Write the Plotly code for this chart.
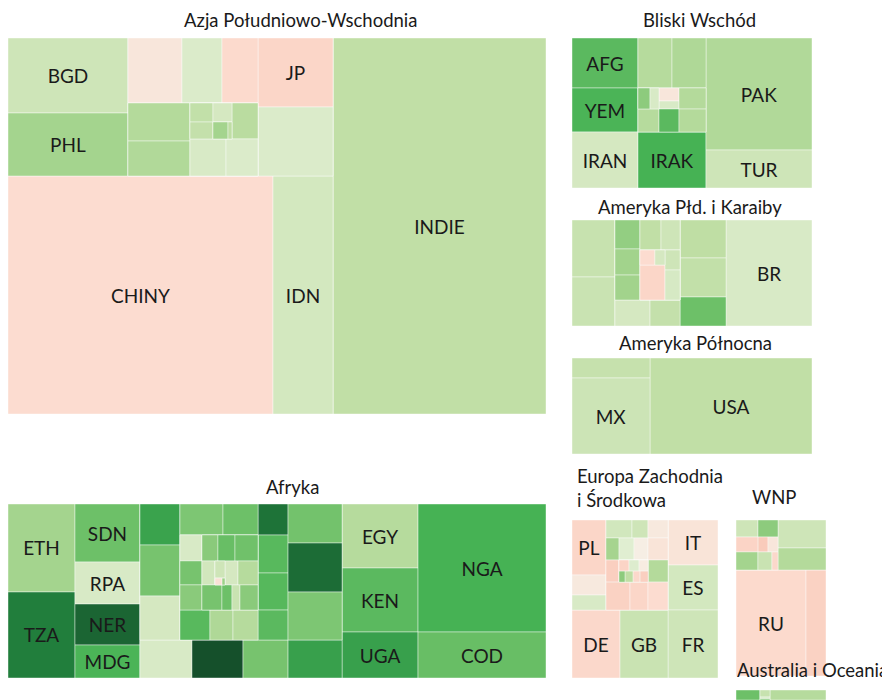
import plotly.graph_objects as go

# Każdy wiersz: (id, rodzic, ludność 2050 w mln, zmiana %, skrót na kafelku)
# węzły "x:..." to tylko grupy porządkujące układ kafelków (wartość 0)

azja = [
    ("Azja", "", 0, 20, ""),
    ("a:lewa", "Azja", 0, 20, ""),
    ("a:gora", "a:lewa", 0, 20, ""),
    ("a:bp", "a:gora", 0, 20, ""),
    ("Bangladesz", "a:bp", 187.5, 16, "BGD"),
    ("Filipiny", "a:bp", 157.5, 37, "PHL"),
    ("a:srodek", "a:gora", 0, 20, ""),
    ("a:s1", "a:srodek", 0, 20, ""),
    ("Tajlandia", "a:s1", 73.1, -6, ""),
    ("Mjanma", "a:s1", 54.2, 9, ""),
    ("Korea Płd.", "a:s1", 48.8, -11, ""),
    ("a:s2", "a:srodek", 0, 20, ""),
    ("a:nm", "a:s2", 0, 20, ""),
    ("Nepal", "a:nm", 49.1, 30, ""),
    ("Malezja", "a:nm", 45.2, 31, ""),
    ("a:reszta", "a:s2", 0, 20, ""),
    ("a:male", "a:reszta", 0, 20, ""),
    ("a:m1", "a:male", 0, 20, ""),
    ("Laos", "a:m1", 9.1, 23, ""),
    ("Singapur", "a:m1", 8.1, 22, ""),
    ("a:m2", "a:male", 0, 20, ""),
    ("Mongolia", "a:m2", 7.5, 12, ""),
    ("a:m3", "a:m2", 0, 20, ""),
    ("Timor Wschodni", "a:m3", 5.3, 37, ""),
    ("Bhutan", "a:m3", 1.4, 25, ""),
    ("Kambodża", "a:male", 19.5, 27, ""),
    ("a:para", "a:reszta", 0, 20, ""),
    ("Sri Lanka", "a:para", 27.8, 10, ""),
    ("Korea Płn.", "a:para", 24.7, 9, ""),
    ("a:jv", "a:gora", 0, 20, ""),
    ("Japonia", "a:jv", 107.8, -13, "JP"),
    ("Wietnam", "a:jv", 107.8, 9, ""),
    ("a:dol", "a:lewa", 0, 20, ""),
    ("Chiny", "a:dol", 1314.0, -10, "CHINY"),
    ("Indonezja", "a:dol", 297.5, 13, "IDN"),
    ("Indie", "Azja", 1668.5, 24, "INDIE"),
]

bliski_wschod = [
    ("Bliski Wschód", "", 0, 20, ""),
    ("b:l", "Bliski Wschód", 0, 20, ""),
    ("Afganistan", "b:l", 82.5, 62, "AFG"),
    ("Jemen", "b:l", 72.6, 68, "YEM"),
    ("Iran", "b:l", 92.4, 12, "IRAN"),
    ("b:m", "Bliski Wschód", 0, 20, ""),
    ("b:mg", "b:m", 0, 20, ""),
    ("Arabia Saudyjska", "b:mg", 42.5, 29, ""),
    ("Syria", "b:mg", 42.5, 32, ""),
    ("b:ms", "b:m", 0, 20, ""),
    ("b:c1", "b:ms", 0, 20, ""),
    ("b:c1g", "b:c1", 0, 20, ""),
    ("Jordania", "b:c1g", 6.3, 45, ""),
    ("Kuwejt", "b:c1g", 4.7, 10, ""),
    ("Izrael", "b:c1", 12.1, 29, ""),
    ("b:c2", "b:ms", 0, 20, ""),
    ("Liban", "b:c2", 6.5, -6, ""),
    ("Katar", "b:c2", 4.0, 10, ""),
    ("Palestyna", "b:c2", 11.5, 62, ""),
    ("b:c3", "b:ms", 0, 20, ""),
    ("Oman", "b:c3", 14.2, 30, ""),
    ("ZEA", "b:c3", 15.5, 30, ""),
    ("Irak", "b:m", 95.2, 70, "IRAK"),
    ("b:p", "Bliski Wschód", 0, 20, ""),
    ("Pakistan", "b:p", 296.8, 31, "PAK"),
    ("Turcja", "b:p", 100.7, 16, "TUR"),
]

ameryka_pld = [
    ("Ameryka Płd. i Karaiby", "", 0, 20, ""),
    ("p:c1", "Ameryka Płd. i Karaiby", 0, 20, ""),
    ("Kolumbia", "p:c1", 61.3, 20, ""),
    ("Argentyna", "p:c1", 52.7, 19, ""),
    ("p:sr", "Ameryka Płd. i Karaiby", 0, 20, ""),
    ("p:g", "p:sr", 0, 20, ""),
    ("p:m1", "p:g", 0, 20, ""),
    ("Boliwia", "p:m1", 18.1, 43, ""),
    ("Haiti", "p:m1", 16.3, 38, ""),
    ("Honduras", "p:m1", 15.6, 38, ""),
    ("p:m2", "p:g", 0, 20, ""),
    ("p:m2g", "p:m2", 0, 20, ""),
    ("Chile", "p:m2g", 15.8, 24, ""),
    ("Dominikana", "p:m2g", 14.3, 16, ""),
    ("p:m2s", "p:m2", 0, 20, ""),
    ("p:pk", "p:m2s", 0, 20, ""),
    ("p:pkm", "p:pk", 0, 20, ""),
    ("Portoryko", "p:pkm", 5.6, -10, ""),
    ("Jamajka", "p:pkm", 3.8, 12, ""),
    ("Kuba", "p:pk", 21.9, -13, ""),
    ("p:pr", "p:m2s", 0, 20, ""),
    ("Salwador", "p:pr", 7.5, 16, ""),
    ("Nikaragua", "p:pr", 11.3, 11, ""),
    ("p:d", "p:sr", 0, 20, ""),
    ("Paragwaj", "p:d", 22.8, 12, ""),
    ("Ekwador", "p:d", 19.5, 22, ""),
    ("p:c3", "Ameryka Płd. i Karaiby", 0, 20, ""),
    ("Peru", "p:c3", 43.7, 25, ""),
    ("Wenezuela", "p:c3", 44.9, 23, ""),
    ("Gwatemala", "p:c3", 33.4, 55, ""),
    ("Brazylia", "Ameryka Płd. i Karaiby", 227.9, 10, "BR"),
]

ameryka_pln = [
    ("Ameryka Północna", "", 0, 20, ""),
    ("n:l", "Ameryka Północna", 0, 20, ""),
    ("Kanada", "n:l", 39.0, 21, ""),
    ("Meksyk", "n:l", 148.2, 17, "MX"),
    ("USA", "Ameryka Północna", 388.8, 24, "USA"),
]

afryka = [
    ("Afryka", "", 0, 20, ""),
    ("f:1", "Afryka", 0, 20, ""),
    ("Etiopia", "f:1", 147.4, 37, "ETH"),
    ("Tanzania", "f:1", 144.1, 87, "TZA"),
    ("f:2", "Afryka", 0, 20, ""),
    ("Sudan", "f:2", 94.3, 55, "SDN"),
    ("RPA", "f:2", 68.3, 10, "RPA"),
    ("Niger", "f:2", 66.6, 94, "NER"),
    ("Madagaskar", "f:2", 53.6, 68, "MDG"),
    ("f:sr", "Afryka", 0, 20, ""),
    ("f:g", "f:sr", 0, 20, ""),
    ("f:a", "f:g", 0, 20, ""),
    ("Mozambik", "f:a", 41.0, 75, ""),
    ("Wybrzeże Kości Słoniowej", "f:a", 51.0, 52, ""),
    ("Algieria", "f:a", 44.0, 12, ""),
    ("f:b", "f:g", 0, 20, ""),
    ("f:b1", "f:b", 0, 20, ""),
    ("Malawi", "f:b1", 33.3, 50, ""),
    ("Zambia", "f:b1", 27.1, 55, ""),
    ("f:b2", "f:b", 0, 20, ""),
    ("f:b2a", "f:b2", 0, 20, ""),
    ("Tunezja", "f:b2a", 14.3, 10, ""),
    ("Senegal", "f:b2a", 13.2, 52, ""),
    ("Zimbabwe", "f:b2a", 13.8, 46, ""),
    ("f:sp", "f:b2", 0, 20, ""),
    ("f:s1", "f:sp", 0, 20, ""),
    ("Benin", "f:s1", 10.4, 46, ""),
    ("Togo", "f:s1", 11.1, 57, ""),
    ("Rwanda", "f:s1", 15.0, 54, ""),
    ("f:s2", "f:sp", 0, 20, ""),
    ("Libia", "f:s2", 7.8, 14, ""),
    ("f:sg", "f:s2", 0, 20, ""),
    ("Gabon", "f:sg", 4.3, 16, ""),
    ("f:sgt", "f:sg", 0, 20, ""),
    ("Mauritius", "f:sgt", 1.2, -8, ""),
    ("Komory", "f:sgt", 0.5, 40, ""),
    ("Lesotho", "f:s2", 7.8, 12, ""),
    ("Sierra Leone", "f:s2", 12.0, 29, ""),
    ("f:s3", "f:sp", 0, 20, ""),
    ("Liberia", "f:s3", 12.5, 52, ""),
    ("Gambia", "f:s3", 6.3, 55, ""),
    ("Botswana", "f:s3", 5.0, 19, ""),
    ("Namibia", "f:s3", 11.3, 46, ""),
    ("f:b3", "f:b", 0, 20, ""),
    ("Sudan Płd.", "f:b3", 22.5, 63, ""),
    ("Erytrea", "f:b3", 17.3, 32, ""),
    ("Mauretania", "f:b3", 18.8, 29, ""),
    ("f:c", "f:g", 0, 20, ""),
    ("Mali", "f:c", 23.3, 90, ""),
    ("Burundi", "f:c", 28.5, 63, ""),
    ("Gwinea", "f:c", 27.8, 64, ""),
    ("Kongo", "f:c", 22.5, 62, ""),
    ("f:d", "f:g", 0, 20, ""),
    ("Czad", "f:d", 52.7, 53, ""),
    ("Somalia", "f:d", 66.2, 92, ""),
    ("Burkina Faso", "f:d", 64.8, 50, ""),
    ("f:dol", "f:sr", 0, 20, ""),
    ("Maroko", "f:dol", 49.4, 10, ""),
    ("Angola", "f:dol", 48.5, 100, ""),
    ("Ghana", "f:dol", 42.8, 52, ""),
    ("Kamerun", "f:dol", 51.3, 76, ""),
    ("f:4", "Afryka", 0, 20, ""),
    ("Egipt", "f:4", 121.6, 29, "EGY"),
    ("Kenia", "f:4", 121.6, 62, "KEN"),
    ("Uganda", "f:4", 87.4, 76, "UGA"),
    ("f:5", "Afryka", 0, 20, ""),
    ("Nigeria", "f:5", 409.6, 70, "NGA"),
    ("DR Konga", "f:5", 147.2, 57, "COD"),
]

europa = [
    ("Europa", "", 0, 20, ""),
    ("e:l", "Europa", 0, 20, ""),
    ("e:lg", "e:l", 0, 20, ""),
    ("e:pl", "e:lg", 0, 20, ""),
    ("Polska", "e:pl", 46.8, -13, "PL"),
    ("Słowacja", "e:pl", 17.0, -5, ""),
    ("Dania", "e:pl", 12.8, 10, ""),
    ("e:m", "e:lg", 0, 20, ""),
    ("e:r1", "e:m", 0, 20, ""),
    ("Holandia", "e:r1", 11.7, 14, ""),
    ("Belgia", "e:r1", 7.2, 16, ""),
    ("Austria", "e:r1", 9.0, -5, ""),
    ("e:r2", "e:m", 0, 20, ""),
    ("Szwecja", "e:r2", 7.2, 36, ""),
    ("Irlandia", "e:r2", 8.3, 7, ""),
    ("Czechy", "e:r2", 7.7, -3, ""),
    ("Portugalia", "e:r2", 11.0, -7, ""),
    ("e:r3", "e:m", 0, 20, ""),
    ("Grecja", "e:r3", 7.2, -16, ""),
    ("e:sp", "e:r3", 0, 20, ""),
    ("e:s1", "e:sp", 0, 20, ""),
    ("Chorwacja", "e:s1", 2.8, -14, ""),
    ("Słowenia", "e:s1", 2.8, 8, ""),
    ("Estonia", "e:s1", 2.5, -4, ""),
    ("e:s2", "e:sp", 0, 20, ""),
    ("Luksemburg", "e:s2", 1.7, 45, ""),
    ("Cypr", "e:s2", 2.2, 25, ""),
    ("Litwa", "e:s2", 1.9, -12, ""),
    ("Łotwa", "e:s2", 2.2, -16, ""),
    ("Norwegia", "e:r3", 11.0, 30, ""),
    ("e:r4", "e:m", 0, 20, ""),
    ("Rumunia", "e:r4", 16.8, -15, ""),
    ("Bułgaria", "e:r4", 12.6, -13, ""),
    ("Serbia", "e:r4", 14.0, -10, ""),
    ("e:ld", "e:l", 0, 20, ""),
    ("Niemcy", "e:ld", 81.6, -12, "DE"),
    ("Wielka Brytania", "e:ld", 81.6, 19, "GB"),
    ("e:p", "Europa", 0, 20, ""),
    ("Włochy", "e:p", 56.3, -7, "IT"),
    ("Hiszpania", "e:p", 56.3, 13, "ES"),
    ("Francja", "e:p", 85.0, 16, "FR"),
]

wnp = [
    ("WNP", "", 0, 20, ""),
    ("w:g", "WNP", 0, 20, ""),
    ("w:l", "w:g", 0, 20, ""),
    ("w:l1", "w:l", 0, 20, ""),
    ("Azerbejdżan", "w:l1", 6.8, 16, ""),
    ("Tadżykistan", "w:l1", 6.2, 45, ""),
    ("w:l2", "w:l", 0, 20, ""),
    ("Białoruś", "w:l2", 6.0, -14, ""),
    ("Mołdawia", "w:l2", 2.7, -18, ""),
    ("Gruzja", "w:l2", 2.7, -6, ""),
    ("w:l3", "w:l", 0, 20, ""),
    ("Kirgistan", "w:l3", 7.2, 37, ""),
    ("Turkmenistan", "w:l3", 4.6, 19, ""),
    ("Armenia", "w:l3", 2.0, -12, ""),
    ("w:p", "w:g", 0, 20, ""),
    ("Uzbekistan", "w:p", 24.4, 16, ""),
    ("Kazachstan", "w:p", 19.2, 30, ""),
    ("w:d", "WNP", 0, 20, ""),
    ("Rosja", "w:d", 134.9, -11, "RU"),
    ("Ukraina", "w:d", 38.5, -15, ""),
]

oceania = [
    ("Australia i Oceania", "", 0, 20, ""),
    ("Papua-Nowa Gwinea", "Australia i Oceania", 15.0, 55, ""),
    ("o:g", "Australia i Oceania", 0, 20, ""),
    ("Nowa Zelandia", "o:g", 4.4, 20, ""),
    ("Fidżi", "o:g", 1.1, 10, ""),
    ("Wyspy Salomona", "o:g", 0.75, 50, ""),
    ("Australia", "Australia i Oceania", 35.0, 29, ""),
]

# strona ma domyślny margines 8 px, więc wykres jest o tyle mniejszy
OFF = 8
W, H = 890 - OFF, 700 - OFF
skala = [
    [0.0, "#f5b29c"],
    [0.1538, "#fcdcd0"],
    [0.2308, "#f3f6ec"],
    [0.3077, "#d8eac6"],
    [0.4231, "#bfdea4"],
    [0.5385, "#9dd188"],
    [0.6538, "#6dc068"],
    [0.7692, "#46b254"],
    [0.8846, "#23853f"],
    [1.0, "#15502b"],
]

# region, ramka w px ekranu (x0, y0, x1, y1), pierwszy podział: kolumny lub wiersze
regiony = [
    (azja, (8, 38, 546, 414), "slice-dice"),
    (bliski_wschod, (572, 38, 812, 188), "slice-dice"),
    (ameryka_pld, (572, 220, 812, 326), "slice-dice"),
    (ameryka_pln, (572, 358, 812, 454), "slice-dice"),
    (afryka, (8, 504, 546, 678), "slice-dice"),
    (europa, (572, 520, 718, 678), "slice-dice"),
    (wnp, (736, 520, 826, 676), "dice-slice"),
    (oceania, (736, 690, 826, 700), "slice-dice"),
]

fig = go.Figure()
for wiersze, (x0, y0, x1, y1), podzial in regiony:
    ids, rodzice, ludnosc, zmiana, skroty = zip(*wiersze)
    x0, y0, x1, y1 = x0 - OFF, y0 - OFF, x1 - OFF, y1 - OFF
    fig.add_trace(go.Treemap(
        ids=ids,
        labels=ids,
        parents=rodzice,
        values=ludnosc,
        text=skroty,
        texttemplate="%{text}",
        textposition="middle center",
        textfont=dict(family="Lato", size=19, color="#1a1a1a"),
        marker=dict(colors=zmiana, colorscale=skala, cmin=-30, cmax=100,
                    line=dict(color="rgba(255,255,255,0.6)", width=0.7),
                    pad=dict(t=0, l=0, r=0, b=0)),
        tiling=dict(packing=podzial, pad=0),
        pathbar=dict(visible=False),
        sort=False,
        hoverinfo="label+value",
        domain=dict(x=[x0 / W, x1 / W], y=[max(0, 1 - y1 / H), 1 - y0 / H]),
    ))

# tytuły regionów (x, y w px ekranu)
tytuly = [
    ("Azja Południowo-Wschodnia", 300, 20, "center"),
    ("Bliski Wschód", 699, 20, "center"),
    ("Ameryka Płd. i Karaiby", 690, 207, "center"),
    ("Ameryka Północna", 695, 343, "center"),
    ("Afryka", 292, 487, "center"),
    ("Europa Zachodnia<br>i Środkowa", 575, 488, "left"),
    ("WNP", 774, 497, "center"),
    ("Australia i Oceania", 812, 670, "center"),
]
for txt, x, y, al in tytuly:
    fig.add_annotation(
        text=txt, x=(x - OFF) / W, y=1 - (y - OFF) / H, xref="paper", yref="paper",
        xanchor=al if al == "left" else "center", yanchor="middle", align=al,
        showarrow=False, font=dict(family="Lato", size=18.5, color="#1a1a1a"),
    )

fig.update_layout(
    width=W, height=H,
    margin=dict(l=0, r=0, t=0, b=0),
    paper_bgcolor="white",
    showlegend=False,
)

fig.write_html("out.html")
